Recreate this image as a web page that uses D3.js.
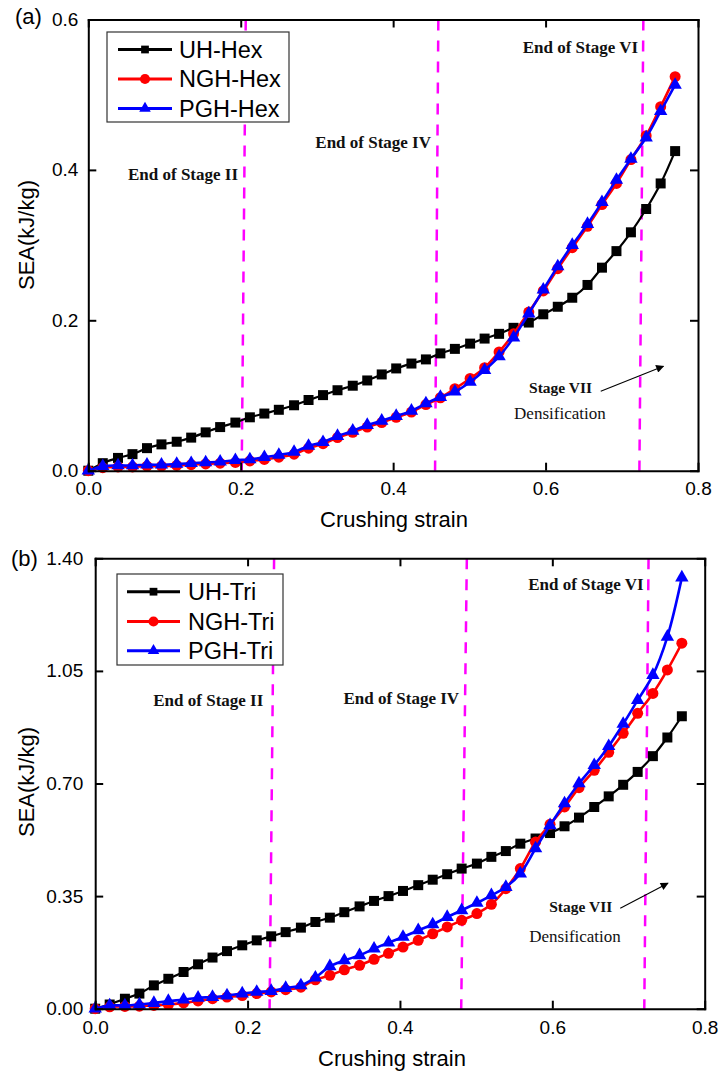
<!DOCTYPE html>
<html>
<head>
<meta charset="utf-8">
<script src="https://cdn.jsdelivr.net/npm/d3@7"></script>
<style>
  body { margin: 0; background: #fff; }
</style>
</head>
<body>
<div id="chart"></div>
<script>
const width = 719;
const height = 1077;

// crushing strain of every sampled point
const strain = [
  0, 0.019, 0.039, 0.058, 0.077, 0.096, 0.116, 0.135, 0.154, 0.173,
  0.193, 0.212, 0.231, 0.25, 0.27, 0.289, 0.308, 0.327, 0.347, 0.366,
  0.385, 0.404, 0.424, 0.443, 0.462, 0.481, 0.501, 0.52, 0.539, 0.558,
  0.578, 0.597, 0.616, 0.635, 0.655, 0.674, 0.693, 0.712, 0.732, 0.751, 0.77,
];

// (a) hexagonal
const uhHex = [
  0, 0.01, 0.017, 0.022, 0.03, 0.035, 0.0385, 0.044, 0.051, 0.058,
  0.064, 0.071, 0.076, 0.081, 0.087, 0.094, 0.1005, 0.107, 0.113, 0.12,
  0.128, 0.136, 0.1425, 0.148, 0.156, 0.162, 0.169, 0.1757, 0.182, 0.19,
  0.197, 0.208, 0.218, 0.23, 0.247, 0.27, 0.292, 0.317, 0.348, 0.382, 0.425,
];
const nghHex = [
  0, 0.004, 0.005, 0.005, 0.006, 0.006, 0.007, 0.008, 0.009, 0.01,
  0.011, 0.013, 0.015, 0.018, 0.022, 0.03, 0.036, 0.044, 0.051, 0.058,
  0.064, 0.071, 0.078, 0.088, 0.097, 0.109, 0.1226, 0.137, 0.158, 0.182,
  0.211, 0.239, 0.2686, 0.2965, 0.325, 0.354, 0.382, 0.4137, 0.4455, 0.484, 0.524,
];
const pghHex = [
  0, 0.006, 0.007, 0.007, 0.008, 0.008, 0.009, 0.01, 0.011, 0.012,
  0.014, 0.015, 0.018, 0.021, 0.025, 0.033, 0.038, 0.046, 0.053, 0.0607,
  0.0664, 0.0726, 0.0796, 0.0894, 0.098, 0.105, 0.118, 0.1336, 0.152, 0.177,
  0.209, 0.2407, 0.2717, 0.3, 0.328, 0.357, 0.3867, 0.4146, 0.443, 0.478, 0.513,
];

// (b) triangular
const uhTri = [
  0, 0.013, 0.031, 0.047, 0.0725, 0.093, 0.114, 0.138, 0.159, 0.179,
  0.197, 0.2125, 0.225, 0.238, 0.252, 0.2695, 0.283, 0.3, 0.318, 0.335,
  0.35, 0.366, 0.384, 0.401, 0.418, 0.4355, 0.451, 0.472, 0.49, 0.513,
  0.529, 0.546, 0.567, 0.594, 0.627, 0.66, 0.696, 0.736, 0.785, 0.843, 0.909,
];
const nghTri = [
  0, 0.006, 0.007, 0.008, 0.01, 0.013, 0.018, 0.024, 0.031, 0.036,
  0.041, 0.047, 0.052, 0.059, 0.067, 0.09, 0.1036, 0.121, 0.135, 0.1534,
  0.172, 0.1917, 0.2125, 0.233, 0.254, 0.2747, 0.2956, 0.3245, 0.373, 0.4355,
  0.518, 0.573, 0.627, 0.687, 0.741, 0.797, 0.856, 0.918, 0.98, 1.053, 1.136,
];
const pghTri = [
  0, 0.01, 0.01, 0.013, 0.0175, 0.0237, 0.028, 0.034, 0.036, 0.041,
  0.047, 0.052, 0.055, 0.064, 0.0725, 0.0965, 0.1316, 0.15, 0.166, 0.1867,
  0.205, 0.223, 0.2436, 0.262, 0.285, 0.306, 0.3286, 0.3525, 0.378, 0.42,
  0.498, 0.57, 0.638, 0.7, 0.757, 0.816, 0.885, 0.959, 1.037, 1.156, 1.34,
];

const strainTicks = [0, 0.2, 0.4, 0.6, 0.8];
const hexTicks = [0, 0.2, 0.4, 0.6];
const triTicks = [0, 0.35, 0.7, 1.05, 1.4];

const hexNames = ["UH-Hex", "NGH-Hex", "PGH-Hex"];
const triNames = ["UH-Tri", "NGH-Tri", "PGH-Tri"];
const stageNames = ["End of Stage II", "End of Stage IV", "End of Stage VI"];

// stage boundaries (strain at top and at bottom of the frame)
const hexStageTop = [0.2066, 0.4593, 0.7283];
const hexStageBottom = [0.2013, 0.455, 0.7231];
const triStageTop = [0.2348, 0.4878, 0.7263];
const triStageBottom = [0.2289, 0.4804, 0.7207];

// label anchors in data units [strain, SEA]
const hexStageLabels = [[0.1965, 0.387], [0.4497, 0.4296], [0.7214, 0.556]];
const triStageLabels = [[0.2207, 0.9397], [0.4777, 0.948], [0.7198, 1.3006]];
const hexDensify = { stage: [0.5783, 0.1027], text: [0.5587, 0.0682], from: [0.6724, 0.1058], to: [0.7546, 0.139] };
const triDensify = { stage: [0.5959, 0.3018], text: [0.5697, 0.2085], from: [0.6892, 0.3124], to: [0.7518, 0.3902] };

const colors = ["#000000", "#ff0000", "#0000ff"];
const lineWidths = [2.2, 2.6, 2.6];
const symbols = [d3.symbolSquare, d3.symbolCircle, d3.symbolTriangle];
const symbolSizes = [100, 95, 78];
const legendSymbolSizes = [60, 80, 58];

const sansFont = "'Liberation Sans', Arial, sans-serif";
const serifFont = "'Liberation Serif', 'Times New Roman', serif";

let svg;

const panels = [
  {
    tag: "(a)", tagX: 15, tagY: 24,
    left: 88.3, right: 698, top: 19.5, bottom: 470.7,
    yMax: 0.6, yTicks: hexTicks, yFormat: ".1f", labelPad: 11, yPad: 10,
    series: [uhHex, nghHex, pghHex], names: hexNames,
    stageTop: hexStageTop, stageBottom: hexStageBottom,
    stageLabels: hexStageLabels, densify: hexDensify,
    titleX: 320, titleY: 527, yTitleX: 34, yTitleY: 235,
    legend: { x: 107, y: 32, w: 182, h: 90, rows: [49.5, 79, 108.5], lx1: 118, lx2: 172, tx: 179 },
  },
  {
    tag: "(b)", tagX: 11, tagY: 566,
    left: 95.2, right: 704.7, top: 558.3, bottom: 1008.7,
    yMax: 1.4, yTicks: triTicks, yFormat: ".2f", labelPad: 12, yPad: 12,
    series: [uhTri, nghTri, pghTri], names: triNames,
    stageTop: triStageTop, stageBottom: triStageBottom,
    stageLabels: triStageLabels, densify: triDensify,
    titleX: 318, titleY: 1066, yTitleX: 34, yTitleY: 782,
    legend: { x: 117, y: 574, w: 166, h: 91, rows: [591.7, 621.5, 650.7], lx1: 127, lx2: 180, tx: 188 },
  },
];

function createChart() {
  svg = d3.select("#chart").append("svg")
    .attr("width", width)
    .attr("height", height)
    .style("display", "block");

  svg.append("defs").append("marker")
    .attr("id", "arrow")
    .attr("viewBox", "0 0 10 10")
    .attr("refX", 9).attr("refY", 5)
    .attr("markerWidth", 12).attr("markerHeight", 8)
    .attr("markerUnits", "userSpaceOnUse")
    .attr("orient", "auto")
    .append("path")
    .attr("d", "M0,0 L10,5 L0,10 Z")
    .attr("fill", "#000");

  panels.forEach(drawPanel);
}

function drawPanel(p) {
  const x = d3.scaleLinear().domain([0, 0.8]).range([p.left, p.right]);
  const y = d3.scaleLinear().domain([0, p.yMax]).range([p.bottom, p.top]);
  const g = svg.append("g");

  // dashed stage boundaries
  g.selectAll(".stage")
    .data(p.stageTop)
    .join("line")
    .attr("x1", (d) => x(d))
    .attr("y1", y(p.yMax))
    .attr("x2", (d, i) => x(p.stageBottom[i]))
    .attr("y2", y(0))
    .attr("stroke", "#ff00ff")
    .attr("stroke-width", 2.5)
    .attr("stroke-dasharray", "11,10");

  g.selectAll(".stage-label")
    .data(p.stageLabels)
    .join("text")
    .attr("x", (d) => x(d[0]))
    .attr("y", (d) => y(d[1]))
    .attr("text-anchor", "end")
    .attr("font-family", serifFont)
    .attr("font-weight", "bold")
    .attr("font-size", 17)
    .attr("fill", "#111")
    .text((d, i) => stageNames[i]);

  // stage VII note + arrow
  g.append("text")
    .attr("x", x(p.densify.stage[0]))
    .attr("y", y(p.densify.stage[1]))
    .attr("font-family", serifFont)
    .attr("font-weight", "bold")
    .attr("font-size", 15.5)
    .attr("fill", "#111")
    .text("Stage VII");
  g.append("text")
    .attr("x", x(p.densify.text[0]))
    .attr("y", y(p.densify.text[1]))
    .attr("font-family", serifFont)
    .attr("font-size", 17)
    .attr("fill", "#111")
    .text("Densification");
  g.append("line")
    .attr("x1", x(p.densify.from[0]))
    .attr("y1", y(p.densify.from[1]))
    .attr("x2", x(p.densify.to[0]))
    .attr("y2", y(p.densify.to[1]))
    .attr("stroke", "#000")
    .attr("stroke-width", 1.1)
    .attr("marker-end", "url(#arrow)");

  // series
  const line = d3.line()
    .x((d) => x(d[0]))
    .y((d) => y(d[1]))
    .curve(d3.curveCatmullRom);

  p.series.forEach((s, k) => {
    const pts = strain.map((d, i) => [d, s[i]]);
    g.append("path")
      .datum(pts)
      .attr("d", line)
      .attr("fill", "none")
      .attr("stroke", colors[k])
      .attr("stroke-width", lineWidths[k]);
    g.append("g")
      .selectAll("path")
      .data(pts)
      .join("path")
      .attr("transform", (d) => `translate(${x(d[0])},${y(d[1])})`)
      .attr("d", d3.symbol().type(symbols[k]).size(symbolSizes[k]))
      .attr("fill", colors[k]);
  });

  // frame and ticks (all ticks point inward)
  const axes = [
    g.append("g").attr("transform", `translate(0,${p.bottom})`)
      .call(d3.axisBottom(x).tickValues(strainTicks).tickSize(-8).tickSizeOuter(0)
        .tickPadding(p.labelPad).tickFormat(d3.format(".1f"))),
    g.append("g").attr("transform", `translate(${p.left},0)`)
      .call(d3.axisLeft(y).tickValues(p.yTicks).tickSize(-8).tickSizeOuter(0)
        .tickPadding(p.yPad).tickFormat(d3.format(p.yFormat))),
    g.append("g").attr("transform", `translate(0,${p.top})`)
      .call(d3.axisTop(x).tickValues(strainTicks).tickSize(-8).tickSizeOuter(0).tickFormat("")),
    g.append("g").attr("transform", `translate(${p.right},0)`)
      .call(d3.axisRight(y).tickValues(p.yTicks).tickSize(-8).tickSizeOuter(0).tickFormat("")),
  ];
  axes.forEach((a) => {
    a.attr("font-family", sansFont).attr("font-size", 19);
    a.select(".domain").attr("stroke-width", 2).attr("stroke-linecap", "square");
    a.selectAll(".tick line").attr("stroke-width", 2);
    a.selectAll(".tick text").attr("fill", "#000");
  });

  // titles
  g.append("text")
    .attr("x", p.titleX)
    .attr("y", p.titleY)
    .attr("font-family", sansFont)
    .attr("font-size", 22)
    .text("Crushing strain");
  g.append("text")
    .attr("transform", `translate(${p.yTitleX},${p.yTitleY}) rotate(-90)`)
    .attr("text-anchor", "middle")
    .attr("font-family", sansFont)
    .attr("font-size", 22)
    .text("SEA(kJ/kg)");
  g.append("text")
    .attr("x", p.tagX)
    .attr("y", p.tagY)
    .attr("font-family", sansFont)
    .attr("font-size", 22)
    .text(p.tag);

  // legend
  const lg = p.legend;
  g.append("rect")
    .attr("x", lg.x)
    .attr("y", lg.y)
    .attr("width", lg.w)
    .attr("height", lg.h)
    .attr("fill", "#fff")
    .attr("stroke", "#333")
    .attr("stroke-width", 1.2);

  const rows = g.selectAll(".legend-row")
    .data(p.names)
    .join("g")
    .attr("transform", (d, i) => `translate(0,${lg.rows[i]})`);
  rows.append("line")
    .attr("x1", lg.lx1)
    .attr("x2", lg.lx2)
    .attr("stroke", (d, i) => colors[i])
    .attr("stroke-width", 3);
  rows.append("path")
    .attr("transform", `translate(${(lg.lx1 + lg.lx2) / 2},0)`)
    .attr("d", (d, i) => d3.symbol().type(symbols[i]).size(legendSymbolSizes[i])())
    .attr("fill", (d, i) => colors[i]);
  rows.append("text")
    .attr("x", lg.tx)
    .attr("dy", "0.36em")
    .attr("font-family", sansFont)
    .attr("font-size", 23.5)
    .text((d) => d);
}

createChart();
</script>
</body>
</html>
